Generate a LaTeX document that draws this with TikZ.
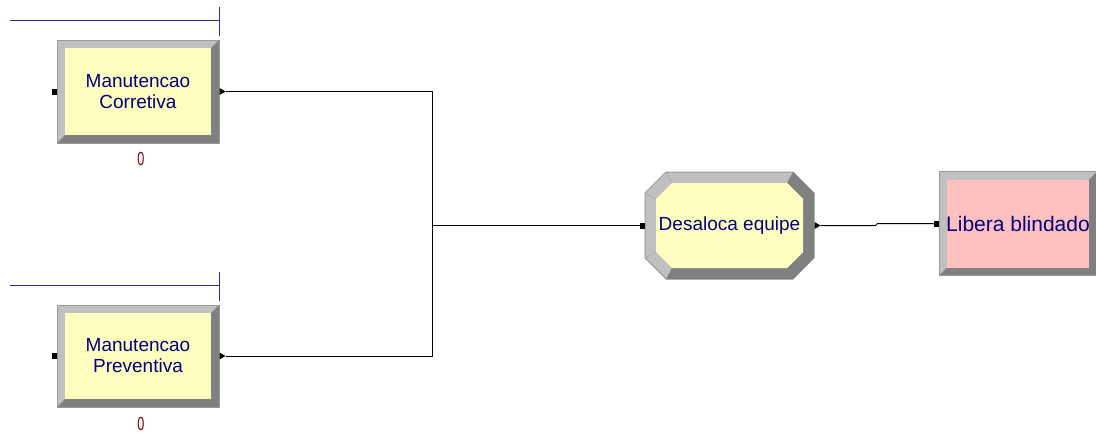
\documentclass[tikz,border=0pt]{standalone}
\usepackage{fontspec}
\setmainfont{Liberation Sans}
\definecolor{bevlight}{RGB}{192,192,192}
\definecolor{bevdark}{RGB}{128,128,128}
\definecolor{modyellow}{RGB}{255,255,192}
\definecolor{modpink}{RGB}{255,192,192}
\definecolor{labelblue}{RGB}{0,0,128}
\definecolor{queueblue}{RGB}{48,48,150}
\definecolor{countred}{RGB}{128,0,0}
\begin{document}
\begin{tikzpicture}[x=1pt, y=-1pt, line width=1pt,
  module/.style={rectangle, draw=gray!80, fill=bevlight, inner sep=0pt,
    minimum width=162pt, minimum height=103pt, align=center, text=labelblue,
    font=\fontsize{19}{21}\selectfont,
    path picture={
      \fill[bevdark] (path picture bounding box.south west)
        -| (path picture bounding box.north east) -- ++(-8,8)
        |- ([shift={(8,-8)}]path picture bounding box.south west) -- cycle;
      \fill[#1] ([shift={(8,-8)}]path picture bounding box.south west)
        rectangle ([shift={(-8,8)}]path picture bounding box.north east);
    }},
  queueline/.style={draw=queueblue, line width=1pt},
  counter/.style={text=countred, font=\fontsize{18}{20}\selectfont, inner sep=0pt},
  bevedge/.style={draw=gray!70, line width=0.5pt}]
  \useasboundingbox (0,0) rectangle (1096,434);

  \node[module=modyellow] (mc) at (138,91.5) {Manutencao\\Corretiva};
  \node[module=modyellow, minimum height=102pt] (mp) at (138,356) {Manutencao\\Preventiva};
  \node[module=modpink, minimum width=158pt, minimum height=104pt,
        font=\fontsize{21}{23}\selectfont] (lb) at (1018,223.5) {Libera blindado};

  \filldraw[fill=bevlight, draw=gray!80] (666,172) -- (793,172) -- (814,193) -- (814,258)
    -- (793,279) -- (666,279) -- (645,258) -- (645,193) -- cycle;
  \fill[bevdark] (793,172) -- (814,193) -- (814,258) -- (793,279) -- (666,279)
    -- (672,268) -- (787,268) -- (803,252) -- (803,199) -- (787,183) -- cycle;
  \fill[modyellow] (672,183) -- (787,183) -- (803,199) -- (803,252) -- (787,268)
    -- (672,268) -- (656,252) -- (656,199) -- cycle;
  \draw[bevedge] (666,172) -- (672,183) (645,193) -- (656,199)
    (645,258) -- (656,252) (666,279) -- (672,268);
  \node[minimum width=169pt, minimum height=107pt, inner sep=0pt, text=labelblue,
        font=\fontsize{19}{21}\selectfont] (de) at (729.5,225.5) {Desaloca equipe};

  \foreach \n in {mc,mp,de,lb}
    \fill ([shift={(-5,-3)}]\n.west) rectangle ++(5,6);
  \foreach \n in {mc,mp,de}
    \fill ([shift={(0,-3.5)}]\n.east) -- ++(0,7) -- ++(6,-3.5) -- cycle;

  \foreach \n in {mc,mp}
    \draw[queueline] ([shift={(-210,-19)}]\n.north east) -- ++(210,0)
      ([shift={(0,-33)}]\n.north east) -- ++(0,29);

  \node[counter] (mccount) at ([shift={(3,15)}]mc.south) {\scalebox{0.7}[1.05]{0}};
  \node[counter] (mpcount) at ([shift={(3,16)}]mp.south) {\scalebox{0.7}[1.05]{0}};

  \coordinate (join) at (432,225.5);
  \draw ([xshift=6pt]mc.east) -| (join);
  \draw ([xshift=6pt]mp.east) -| (join);
  \draw (join) -- ([xshift=-5pt]de.west);
  \draw ([xshift=6pt]de.east) -- ++(55,0) -- ++(2,-2) -- ([xshift=-5pt]lb.west);
\end{tikzpicture}
\end{document}
